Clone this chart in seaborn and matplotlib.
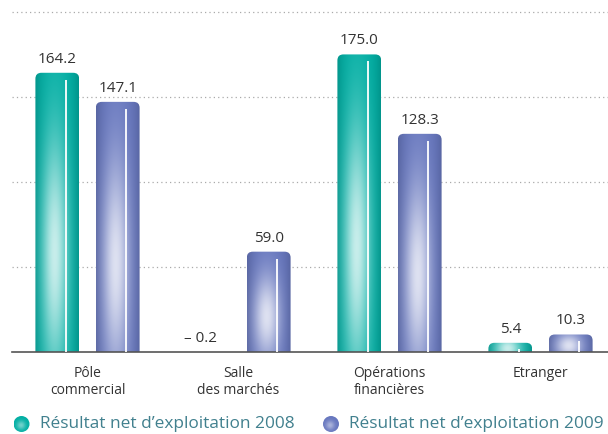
import numpy as np
import pandas as pd
import seaborn as sns
import matplotlib.pyplot as plt
from matplotlib.patches import FancyBboxPatch, Circle
from matplotlib.colors import to_rgb

# données
categories = ["Pôle\ncommercial", "Salle\ndes marchés", "Opérations\nfinancières", "Etranger"]
res_2008 = [164.2, -0.2, 175.0, 5.4]
res_2009 = [147.1, 59.0, 128.3, 10.3]
series = ["Résultat net d’exploitation 2008", "Résultat net d’exploitation 2009"]
colors = ["#00aea3", "#6676be"]

df = pd.DataFrame({
    "cat": categories * 2,
    "val": res_2008 + res_2009,
    "serie": [series[0]] * 4 + [series[1]] * 4,
})

sns.set_style("white")
plt.rcParams["font.family"] = ["Open Sans", "DejaVu Sans"]

W, H = 608, 434
fig = plt.figure(figsize=(W / 100, H / 100), dpi=100)
ax = fig.add_axes([12 / W, 82 / H, 596 / W, 352 / H])

sns.barplot(data=df, x="cat", y="val", hue="serie", palette=colors,
            width=0.8, gap=0.275, legend=False, ax=ax)

ymax = 207
ax.set_ylim(0, ymax)
ax.set_xlim(-0.5, 3.447)

# pixels par unité
px_x = 596 / 3.947
px_y = 352 / ymax


def gradient(base, h_px, w_px):
    ny = max(int(h_px), 4)
    nx = max(int(w_px) * 2, 4)
    X, Y = np.meshgrid(np.linspace(0, 1, nx), np.linspace(0, 1, ny))
    y_px = Y * h_px
    yc = 0.35 * h_px
    sy = max(0.42 * h_px, 12)
    glow = np.exp(-((X - 0.45) / 0.3) ** 2) * np.exp(-((y_px - yc) / sy) ** 2)
    edge = np.abs(2 * X - 1) ** 3
    c = np.array(to_rgb(base))
    img = c[None, None, :] * (1 - 0.15 * edge[..., None])
    g = 0.78 * glow[..., None]
    img = img * (1 - g) + g
    return np.clip(img, 0, 1)


for cont, base in zip(ax.containers, colors):
    for bar in cont:
        bar.set_visible(False)
        h = bar.get_height()
        x0 = bar.get_x()
        w = bar.get_width()
        if h <= 0:
            continue
        r = 6 / px_x
        box = FancyBboxPatch((x0, -20), w, h + 20,
                             boxstyle=f"round,pad=0,rounding_size={r}",
                             mutation_aspect=px_x / px_y,
                             fill=False, edgecolor="none", zorder=2)
        ax.add_patch(box)
        im = ax.imshow(gradient(base, h * px_y, w * px_x), origin="lower",
                       extent=(x0, x0 + w, 0, h), aspect="auto",
                       interpolation="bilinear", zorder=2)
        im.set_clip_path(box)
        # reflet blanc
        xl = x0 + 0.70 * w
        ax.plot([xl, xl], [0, max(h - 7 / px_y, 0.3 * h)], color="white",
                lw=1.3, zorder=3, solid_capstyle="butt")

# étiquettes de valeurs
for cont in ax.containers:
    for bar in cont:
        h = bar.get_height()
        txt = f"– {abs(h):.1f}" if h < 0 else f"{h:.1f}"
        xc = bar.get_x() + bar.get_width() / 2
        if h < 0:
            xc -= 0.05
        ax.text(xc, max(h, 0) + 6 / px_y, txt, ha="center", va="bottom",
                fontsize=11, color="#333333")

ax.set_xlim(-0.5, 3.447)
ax.set_ylim(0, ymax)

# grille pointillée
ax.set_yticks([50, 100, 150, 200])
ax.yaxis.grid(True, linestyle=(0, (1, 2.5)), color="#aaaaaa", lw=0.9)
ax.set_axisbelow(True)
ax.tick_params(axis="y", left=False, labelleft=False)

# axes
for s in ["top", "right", "left"]:
    ax.spines[s].set_visible(False)
ax.spines["bottom"].set_color("#555555")
ax.spines["bottom"].set_linewidth(1.2)

ax.set_xticks(range(4))
ax.set_xticklabels(categories, fontsize=10, color="#333333", linespacing=1.15)
ax.set_xticks([0.5, 1.5, 2.5], minor=True)
ax.tick_params(axis="x", which="major", length=0, pad=10)
ax.tick_params(axis="x", which="minor", direction="in", length=11, width=1, color="#555555")
ax.set_xlabel("")
ax.set_ylabel("")

# légende
lax = fig.add_axes([0, 0, 1, 30 / H])
lax.set_xlim(0, W)
lax.set_ylim(0, 30)
lax.axis("off")


def circle_img(base):
    n = 40
    X, Y = np.meshgrid(np.linspace(-1, 1, n), np.linspace(-1, 1, n))
    d = np.sqrt((X + 0.1) ** 2 + (Y + 0.15) ** 2)
    glow = np.exp(-(d / 0.55) ** 2)
    c = np.array(to_rgb(base))
    img = c[None, None, :] * (1 - glow[..., None] * 0.45) + 0.45 * glow[..., None]
    return np.clip(img, 0, 1)


for cx, tx, base, label in [(21.5, 40, colors[0], series[0]), (331, 349, colors[1], series[1])]:
    rad = 8
    circ = Circle((cx, 10), rad, facecolor="none", edgecolor="none")
    lax.add_patch(circ)
    im = lax.imshow(circle_img(base), extent=(cx - rad, cx + rad, 10 - rad, 10 + rad),
                    origin="lower", aspect="auto", interpolation="bilinear")
    im.set_clip_path(circ)
    lax.text(tx, 10, label, va="center", ha="left", fontsize=12.4, color="#41808e")

lax.set_xlim(0, W)
lax.set_ylim(0, 30)

fig.savefig("out.png", dpi=100)
